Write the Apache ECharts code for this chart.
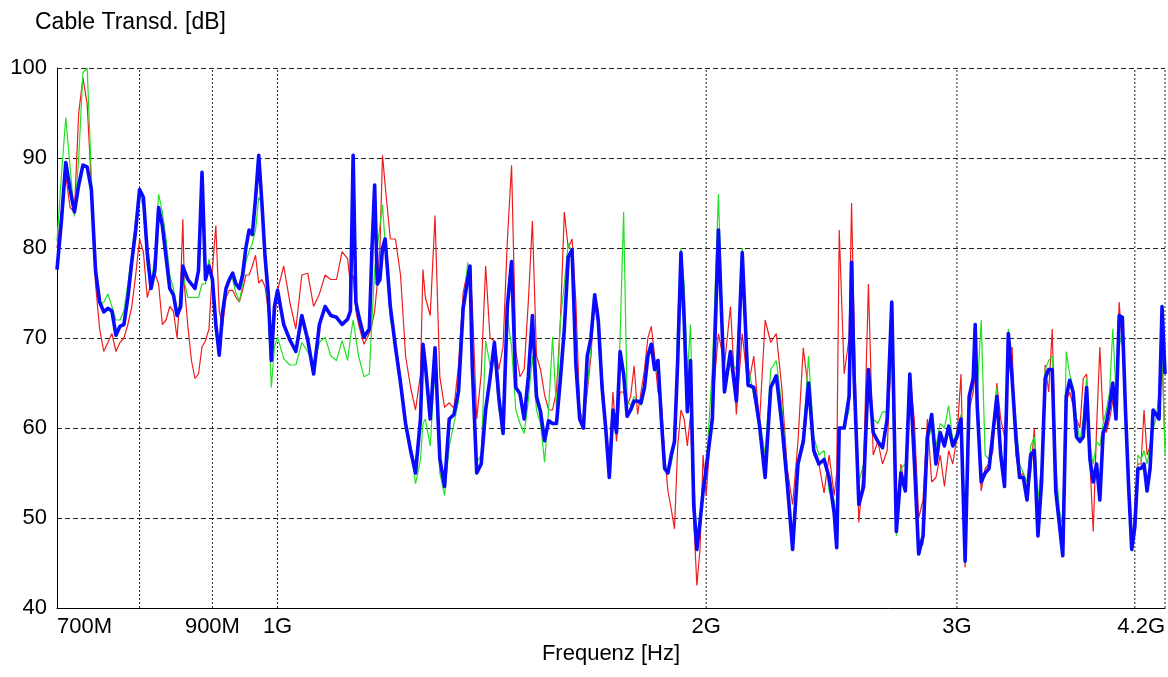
<!DOCTYPE html>
<html><head><meta charset="utf-8">
<script src="https://cdn.jsdelivr.net/npm/echarts@6/dist/echarts.min.js"></script>
<style>html,body{margin:0;padding:0;background:#fff}#c{width:1168px;height:677px}</style>
</head><body><div id="c"></div>
<script>
// Frequencies in MHz
const freqMHz = [
700,705,710,715,720,725,730,735,740,745,750,755,760,765,770,775,780,785,790,795,
800,805,810,815,820,825,830,835,840,845,850,855,858,860,865,870,875,880,885,890,895,
900,905,910,915,920,925,930,935,940,945,950,955,960,965,970,975,980,985,990,995,
1000,1010,1020,1030,1040,1050,1060,1070,1080,1090,1100,1110,1120,1125,1130,1135,1140,1150,1160,1165,1170,1175,1180,1185,1190,
1200,1210,1220,1230,1240,1250,1260,1265,1270,1280,1290,
1300,1310,1320,1330,1340,1350,1360,1365,1370,1380,1390,
1400,1410,1420,1430,1440,1450,1460,1470,1480,1490,
1500,1510,1520,1530,1540,1550,1560,1570,1580,1590,
1600,1610,1620,1630,1640,1650,1660,1670,1680,1690,
1700,1710,1720,1730,1740,1750,1760,1770,1780,1790,
1800,1810,1820,1830,1840,1850,1860,1870,1880,1890,
1900,1910,1920,1930,1940,1950,1960,1970,1980,1990,
2000,2020,2040,2060,2080,2100,2120,2140,2160,2180,
2200,2220,2240,2260,2280,2300,2320,2340,2360,2380,
2400,2420,2440,2460,2470,2480,2500,2520,2530,2540,2560,2580,
2600,2620,2640,2660,2680,2700,2720,2740,2760,2780,
2800,2820,2840,2860,2880,2900,2920,2940,2960,2980,
3000,3020,3040,3060,3080,3090,3100,3120,3140,3160,3180,
3200,3220,3240,3260,3280,3300,3320,3340,3360,3380,
3400,3420,3440,3460,3480,3500,3520,3540,3560,3580,
3600,3620,3640,3660,3680,3700,3720,3740,3760,3780,
3800,3820,3840,3860,3880,3900,3920,3940,3960,3980,
4000,4020,4040,4060,4080,4100,4120,4140,4160,4180,4200
];

const blueDb = [
77.6,83,89.5,86.5,84,87,89.2,89,86.5,77.5,74,72.9,73.3,73,70.3,71.3,71.5,74.5,78.5,82,
86.5,85.6,79.5,75.5,77.5,84.5,82.5,79,75.5,74.8,72.5,73.5,78,77.5,76.5,76,75.5,77.5,88.4,76.5,78,
76.5,71.5,68.1,72.9,75.5,76.5,77.2,76,75.5,77,80,82,81.5,85.5,90.3,85,79,75,67.5,73.5,
75.3,71.5,69.8,68.5,72.5,69.8,66,71.5,73.5,72.5,72.3,71.5,72.1,73,90.3,74,72.5,70.1,71,80,87,76,76.5,80,81,
73.5,69,65,60.5,57.5,55,61,69.3,67,61,68.9,
56.6,53.5,61,61.5,64.1,73.3,76.5,78,67,55,56,
62,65.5,69.5,63.5,59.4,73.5,78.5,64.5,63.8,61,
65.7,72.5,63.5,61.8,58.6,60.8,60.5,60.5,65.5,71,
79,79.8,67,61,60,68,70,74.8,71.8,64.5,
60,54.5,62,59.5,68.5,66,61.3,62,63,63,
62.8,64.5,68,69.3,66.5,67.5,61,55.5,55,57,
58.5,67.5,79.5,72,61.8,67.5,51.5,46.5,49.5,53,
55.5,61,82,64,68.5,63,79.5,64.8,64.5,60.3,
54.5,64.5,65.8,60.5,53.9,46.5,56,58.5,65,57.5,
56,56.5,54.5,50.5,46.7,60,60,63.5,78.4,66,51.5,53.5,
66.5,59.5,58.5,57.8,61,74,48.5,55,53,66,
56.5,46,48,59,61.5,56,59.5,58,60.2,58,
59,61,45.2,63.5,65.5,71.5,62.5,54,55,55.5,59.5,
63.5,57,53.5,70.5,65.5,59,54.5,54.5,52,57,
57.5,48,54,65.5,66.5,66.5,53,49.4,45.8,63.5,
65.3,64,59,58.5,59,64.5,56.5,54,56,52,
59.4,60.5,62.5,65,61,72.5,72.3,62,53.5,46.5,
49,55.5,55.5,56,53,55.5,62,61.5,61,73.5,66
];

const redDb = [
80,84,88,84.5,84,95,98.9,96,87,76,71,68.5,69.5,70.5,68.5,69.5,70,71.5,73.5,77,
81,79.5,74.5,76,77.2,76,71.5,72,73.5,73,70,76,83.2,76,71.3,67.5,65.5,66,69,69.7,71,
77.6,82.5,73,71.3,74.5,75.3,75.3,74.5,74,75.3,77,77,78,79.2,76.1,76.5,75.7,73,70.1,72,
75.3,78,74,71,77,77.2,73.5,74.9,77,76.5,76.5,79.6,78.8,76,77,73,71.5,69.3,70.5,71.5,73,76,80,90.3,87,
81,81,77,68,64.5,62,66,77.6,74.5,72.5,83.6,
65.7,62.3,62.8,62.2,67,75,77.6,77,74,61,66,
78,70,69.7,66.5,69,80.8,89.2,68.5,65.7,66.5,
74,83,68,66.5,63.7,62,62,64.1,72,84,
80,81,74,62,60.5,64,68,75,73,66,
60.5,56.5,64,58.5,64,64,62.5,63.5,66.9,61.5,
64,66.5,70,71.3,68,64,63,57,53,51,
48.8,58,62,61,58,61.5,50,42.5,46.5,57,
52.5,62.5,70.5,67,73.5,61.5,70.5,64.5,68,60.5,
72,69.5,70.5,64.5,55.5,51.5,58.5,68.9,64,57,
56,52.8,57,52.5,55,82,66,70,85,72,49.5,56,
76,57,58.5,56,57.5,70,50.5,56,53,66,
61,50,52,61,54,54.5,57,53.5,57.5,56,
59,66,44.5,62,64,66,63,53,55.5,56,57.5,
65,61,59,68,69,57,54.5,55,52.5,55,
60,50.5,54,67,64,71,55,50,46,63,
64,62.5,61,60,65.5,66,56,48.5,60,69,
61,59.5,61,63,64,74,69,62,52,47,
51,56,56,62,57,58,62,61.5,62,68,58
];

const greenDb = [
80.8,88,94.5,89,83.5,90,99.5,100,88,78,73.7,74,74.9,73.5,72,72,73,76,79.5,83,
86,84.5,78,76,79,86,84,81,77,75.5,73,74,77,77,74.5,74.5,74.5,74.5,76,76,78.8,
76,71.5,68,72.9,75.5,76.5,76.5,75,74.1,76,78.5,79.6,80.5,82,85.6,85,78,73,64.5,69,
70.1,67.7,67,67,69.5,68.5,67,69.5,70.1,68,67.5,69.7,67.5,70,72,70,68,65.7,66,72,77.6,80,82.5,84.8,80.5,
72,70,65.5,61,58,53.8,56.5,60.5,61,58,67,
55,52.5,58,60.5,63,73,78.4,76,70,56.2,57,
69.7,67,68,62,61,72.5,69,62,60.5,59.4,
63,68,62,60.5,56.2,62,70.1,62,72,76,
80.5,79.5,70,61,60.5,64.5,69,75,72,64,
60,56,62,60.5,70,84,63,62.5,63.5,63,
62.5,64,68.5,69,67,66,62,56,55,56,
58,72,80,76,66,71.5,55,47,49.5,52.5,
55.5,66.6,86,64,67.5,66.5,80,67,63.5,61,
57,66.5,67.5,62.5,55,48,56.5,59,68,59,
57,57.5,53,52,48,60,60,62,76,68,54,56,
65,61,60.5,61.8,61.8,68,48,55.5,56,63.5,
58,47,47,58.5,60,58,60.5,60,62.5,58.5,
59.5,61.5,47,63,65.5,70,64,72,57,56.5,60,
64.5,58,54,71,66,61,56,55,54,58,
59,52,56,66.5,67.5,68,56,51,49,68.5,
66,64.5,61,58.5,61,65.5,58,56,58.5,58,
60.5,62,64,71,64,69,71,63,55,48,
50,57,56.5,57.5,56,58,60,61,64,70,57
];

// Axis labels and grid positions (MHz)
const tickFreqs = [700, 900, 1000, 2000, 3000, 4200];
const tickLabels = ['700M', '900M', '1G', '2G', '3G', '4.2G'];
const vGridFreqs = [800, 900, 1000, 2000, 3000, 4000, 4200];
const yMin = 40, yMax = 100, yStep = 10;
const fMin = 700, fMax = 4200;

const FONT = 'Liberation Sans, Arial, sans-serif';
const lg = Math.log10;

function toSeries(vals) { return freqMHz.map((f, i) => [lg(f), vals[i]]); }

const gridSeries = vGridFreqs.map(f => ({
  type: 'line', silent: true, z: 1, symbol: 'none', animation: false,
  data: [[lg(f), yMin], [lg(f), yMax]],
  lineStyle: { color: '#222', width: 1, type: [2, 2] }
}));

const chart = echarts.init(document.getElementById('c'), null, { renderer: 'canvas' });
chart.setOption({
  animation: false,
  backgroundColor: '#fff',
  grid: { left: 57, right: 3, top: 68, bottom: 69, containLabel: false, outerBoundsMode: 'none' },
  graphic: [{
    type: 'text', left: 35, top: 11,
    style: { text: 'Cable Transd. [dB]', fontSize: 23, fill: '#000', fontFamily: FONT }
  }],
  xAxis: {
    type: 'value', min: lg(fMin), max: lg(fMax),
    axisLine: { show: true, onZero: false, lineStyle: { color: '#000', width: 1 } },
    axisTick: { show: false },
    splitLine: { show: false },
    axisLabel: {
      customValues: tickFreqs.map(lg),
      formatter: function (v) {
        let best = 0, bd = Infinity;
        tickFreqs.forEach((f, i) => { const d = Math.abs(lg(f) - v); if (d < bd) { bd = d; best = i; } });
        return tickLabels[best];
      },
      alignMinLabel: 'left', alignMaxLabel: 'right',
      showMinLabel: true, showMaxLabel: true, hideOverlap: false,
      fontSize: 22, color: '#000', margin: 8, fontFamily: FONT
    },
    name: 'Frequenz [Hz]', nameLocation: 'middle', nameGap: 31,
    nameTextStyle: { fontSize: 22, color: '#000', fontFamily: FONT }
  },
  yAxis: {
    type: 'value', min: yMin, max: yMax, interval: yStep,
    axisLine: { show: true, onZero: false, lineStyle: { color: '#000', width: 1 } },
    axisTick: { show: false },
    axisLabel: { fontSize: 22, color: '#000', margin: 10, fontFamily: FONT },
    splitLine: { show: true, lineStyle: { color: '#222', width: 1, type: [5, 3] } }
  },
  series: gridSeries.concat([
    { name: 'red', type: 'line', z: 3, symbol: 'none', data: toSeries(redDb),
      lineStyle: { color: '#ee1c1c', width: 1.2 } },
    { name: 'green', type: 'line', z: 4, symbol: 'none', data: toSeries(greenDb),
      lineStyle: { color: '#22e022', width: 1.2 } },
    { name: 'blue', type: 'line', z: 5, symbol: 'none', data: toSeries(blueDb),
      lineStyle: { color: '#0a0aff', width: 3.6, join: 'round' } }
  ])
});
</script>
</body></html>
